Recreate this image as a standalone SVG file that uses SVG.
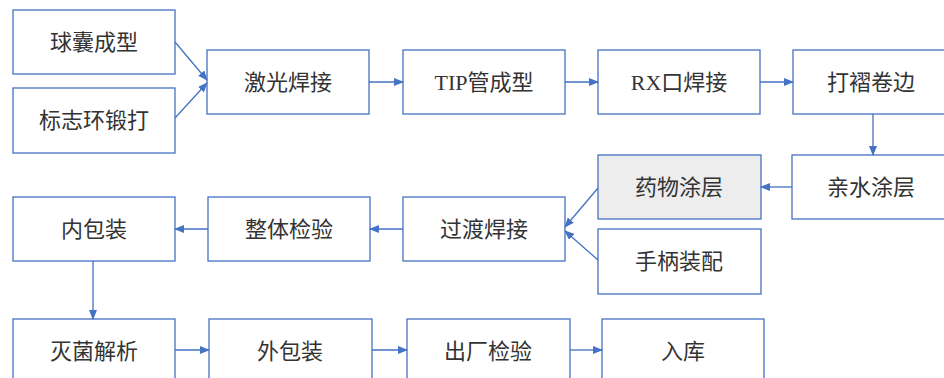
<svg xmlns="http://www.w3.org/2000/svg" width="944" height="378" viewBox="0 0 944 378">
<defs>
<marker id="ah" markerWidth="10" markerHeight="8" refX="9" refY="4" orient="auto" markerUnits="userSpaceOnUse">
<path d="M0,0 L10,4 L0,8 Z" fill="#4472C4"/>
</marker>
<style>
.box{fill:#fff;stroke:#4472C4;stroke-width:1.3}
.gray{fill:#EDEDED}
.t{font-family:"Liberation Serif","Noto Sans CJK SC",serif;font-size:22px;fill:#333;text-anchor:middle;dominant-baseline:central}
.c{stroke:#4472C4;stroke-width:1.3;fill:none;marker-end:url(#ah)}
</style>
</defs>
<rect width="944" height="378" fill="#fff"/>
<g id="n1"><rect class="box" x="13" y="10" width="162" height="64"/><text class="t" x="94" y="42">球囊成型</text></g>
<g id="n2"><rect class="box" x="13" y="88" width="162" height="65"/><text class="t" x="94" y="120">标志环锻打</text></g>
<g id="n3"><rect class="box" x="207" y="50" width="162" height="64"/><text class="t" x="288" y="82">激光焊接</text></g>
<g id="n4"><rect class="box" x="403" y="50" width="162" height="64"/><text class="t" x="484" y="82">TIP管成型</text></g>
<g id="n5"><rect class="box" x="598" y="50" width="162" height="64"/><text class="t" x="679" y="82">RX口焊接</text></g>
<g id="n6"><rect class="box" x="793" y="50" width="162" height="64"/><text class="t" x="871" y="82">打褶卷边</text></g>
<g id="n7"><rect class="box" x="792" y="155" width="162" height="64"/><text class="t" x="871" y="187">亲水涂层</text></g>
<g id="n8"><rect class="box gray" x="598" y="155" width="163" height="64"/><text class="t" x="679" y="187">药物涂层</text></g>
<g id="n9"><rect class="box" x="598" y="229" width="163" height="65"/><text class="t" x="679" y="261">手柄装配</text></g>
<g id="n10"><rect class="box" x="403" y="197" width="162" height="64"/><text class="t" x="484" y="229">过渡焊接</text></g>
<g id="n11"><rect class="box" x="208" y="197" width="162" height="64"/><text class="t" x="289" y="229">整体检验</text></g>
<g id="n12"><rect class="box" x="13" y="197" width="162" height="64"/><text class="t" x="94" y="229">内包装</text></g>
<g id="n13"><rect class="box" x="13" y="319" width="162" height="70"/><text class="t" x="94" y="351">灭菌解析</text></g>
<g id="n14"><rect class="box" x="209" y="319" width="163" height="70"/><text class="t" x="290" y="351">外包装</text></g>
<g id="n15"><rect class="box" x="407" y="319" width="163" height="70"/><text class="t" x="488" y="351">出厂检验</text></g>
<g id="n16"><rect class="box" x="602" y="319" width="162" height="70"/><text class="t" x="683" y="351">入库</text></g>
<g id="connectors">
<line class="c" x1="175" y1="42" x2="207" y2="80"/>
<line class="c" x1="175" y1="118" x2="207" y2="83"/>
<line class="c" x1="369" y1="82" x2="403" y2="82"/>
<line class="c" x1="565" y1="82" x2="598" y2="82"/>
<line class="c" x1="760" y1="82" x2="793" y2="82"/>
<line class="c" x1="873" y1="114" x2="873" y2="155"/>
<line class="c" x1="792" y1="187" x2="761" y2="187"/>
<line class="c" x1="598" y1="188" x2="565" y2="227"/>
<line class="c" x1="598" y1="260" x2="565" y2="231"/>
<line class="c" x1="403" y1="229" x2="370" y2="229"/>
<line class="c" x1="208" y1="229" x2="175" y2="229"/>
<line class="c" x1="93" y1="261" x2="93" y2="319"/>
<line class="c" x1="175" y1="350" x2="209" y2="350"/>
<line class="c" x1="372" y1="350" x2="407" y2="350"/>
<line class="c" x1="570" y1="350" x2="602" y2="350"/>
</g>
</svg>
